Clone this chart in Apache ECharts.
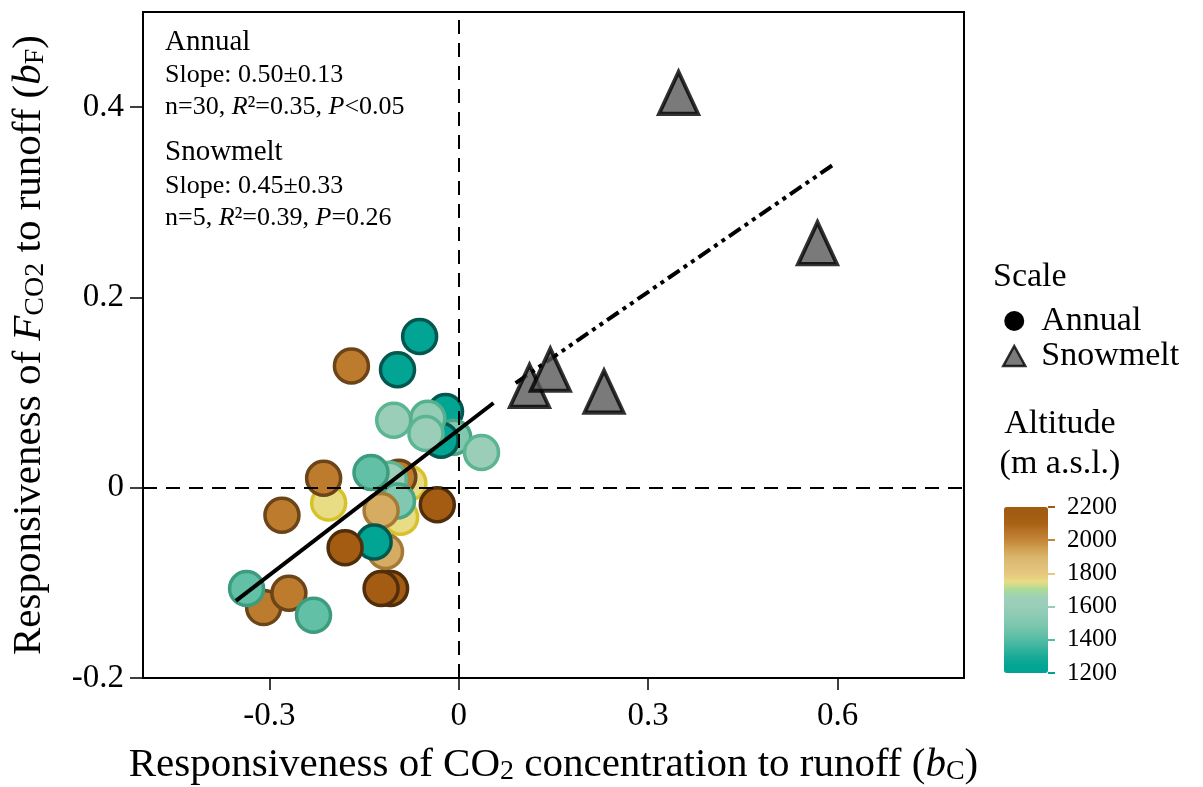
<!DOCTYPE html>
<html><head><meta charset="utf-8">
<script src="https://cdn.jsdelivr.net/npm/echarts@6/dist/echarts.min.js"></script>
<style>html,body{margin:0;padding:0;background:#fff}#c{width:1203px;height:787px}</style>
</head><body><div id="c"></div>
<script>
// ---- data ----
const annualX   = [-0.309,-0.336,-0.269,-0.230,-0.206,-0.214,-0.280,-0.079,-0.095,-0.110,-0.139,-0.092,-0.097,-0.123,-0.034,-0.116,-0.134,-0.180,-0.108,-0.123,-0.170,-0.097,-0.062,-0.103,-0.021,-0.008,-0.028,-0.049,-0.052,0.036];
const annualY   = [-0.126,-0.106,-0.111,-0.134,-0.016,0.010,-0.029,0.005,0.011,0.009,0.016,-0.031,-0.014,-0.024,-0.018,-0.067,-0.057,-0.063,-0.106,-0.106,0.128,0.124,0.159,0.071,0.080,0.053,0.050,0.073,0.057,0.037];
const annualAlt = [2030,1430,2030,1430,1750,2030,2030,1750,2030,1620,1430,1750,1500,1920,2150,1920,1230,2150,2150,2150,2030,1230,1230,1620,1230,1500,1230,1580,1620,1620];
const snowX = [0.348, 0.568, 0.112, 0.145, 0.230];
const snowY = [0.415, 0.257, 0.107, 0.124, 0.101];
const annualFitX = [-0.353, 0.055];
const annualFitY = [-0.119, 0.089];
const snowFitX = [0.090, 0.594];
const snowFitY = [0.110, 0.340];
const xTicks = [-0.3, 0, 0.3, 0.6];
const yTicks = [-0.2, 0, 0.2, 0.4];
const altMin = 1200, altMax = 2200, altStep = 200;
// colour scale, 1200 -> 2200 in steps of 50
const altColors = ['#00a292','#03a594','#1aab98','#38b39e','#54bca4','#6cc2a8','#80c8b0','#8ecbb4','#98ceb8','#9dcfba','#a9da9c','#e8dc84','#e6c77f','#e0bf78','#d9b46c','#cfa050','#c48638','#b87428','#a86214','#a35c12','#a05a12'];
const borderStops = [[1200,'#004d45'],[1300,'#0b6e62'],[1430,'#3c9c7e'],[1620,'#5cb592'],[1700,'#8cc48a'],[1750,'#d8c22c'],[1920,'#a57a36'],[2030,'#6b4418'],[2200,'#452505']];

function hex2rgb(h){return [parseInt(h.slice(1,3),16),parseInt(h.slice(3,5),16),parseInt(h.slice(5,7),16)];}
function interp(stops, v){
  if (v <= stops[0][0]) return stops[0][1];
  for (let i=1;i<stops.length;i++){
    if (v <= stops[i][0]){
      const t=(v-stops[i-1][0])/(stops[i][0]-stops[i-1][0]);
      const a=hex2rgb(stops[i-1][1]), b=hex2rgb(stops[i][1]);
      return 'rgb('+a.map((c,k)=>Math.round(c+(b[k]-c)*t)).join(',')+')';
    }
  }
  return stops[stops.length-1][1];
}

const FONT = 'Liberation Serif';
const annualData = annualX.map((x,i)=>({value:[x, annualY[i], annualAlt[i]], itemStyle:{borderColor: interp(borderStops, annualAlt[i])}}));
const snowData = snowX.map((x,i)=>[x, snowY[i]]);
const annualFit = annualFitX.map((x,i)=>[x, annualFitY[i]]);
const snowFit = snowFitX.map((x,i)=>[x, snowFitY[i]]);

const tickGradient = {type:'linear', x:0, y:507, x2:0, y2:673, global:true,
  colorStops: altColors.slice().reverse().map((c,i,arr)=>({offset:i/(arr.length-1), color:c}))};

const titleRich = {i:{fontStyle:'italic', fontSize:41, fontFamily:FONT, color:'#000'},
                   s:{fontSize:28, fontFamily:FONT, color:'#000', verticalAlign:'bottom'}};

const chart = echarts.init(document.getElementById('c'), null, {renderer:'canvas'});
const option = {
  animation:false,
  backgroundColor:'#fff',
  grid:[
    {left:143, right:239, top:12, bottom:109, show:true, borderColor:'#000', borderWidth:2, backgroundColor:'transparent', outerBoundsMode:'none', containLabel:false},
    {left:1004, top:507, width:44, height:166, show:false, outerBoundsMode:'none', containLabel:false}
  ],
  xAxis:[
    {type:'value', gridIndex:0, min:-0.5, max:0.8,
     axisLine:{show:true, onZero:false, lineStyle:{color:'#000', width:2}},
     axisTick:{show:true, length:12, lineStyle:{color:'#000', width:1.5}, customValues:xTicks},
     axisLabel:{show:true, customValues:xTicks, margin:22, fontSize:33, fontFamily:FONT, color:'#000'},
     splitLine:{show:false},
     name:'Responsiveness of CO{s|2} concentration to runoff ({i|b}{s|C})',
     nameLocation:'middle', nameGap:67,
     nameTextStyle:{fontSize:41, fontFamily:FONT, color:'#000', rich:titleRich}
    },
    {type:'value', gridIndex:1, show:false, min:0, max:1}
  ],
  yAxis:[
    {type:'value', gridIndex:0, min:-0.2, max:0.5,
     axisLine:{show:true, onZero:false, lineStyle:{color:'#000', width:2}},
     axisTick:{show:true, length:13, lineStyle:{color:'#000', width:1.5}, customValues:yTicks},
     axisLabel:{show:true, customValues:yTicks, margin:19, fontSize:33, fontFamily:FONT, color:'#000'},
     splitLine:{show:false},
     name:'Responsiveness of {i|F}{s|CO2} to runoff ({i|b}{s|F})',
     nameLocation:'middle', nameGap:93, nameRotate:90,
     nameTextStyle:{fontSize:41, fontFamily:FONT, color:'#000', rich:titleRich}
    },
    {type:'value', gridIndex:1, position:'right', min:altMin, max:altMax, interval:altStep,
     axisLine:{show:false, onZero:false},
     axisTick:{show:true, length:7, inside:false, lineStyle:{color:tickGradient, width:2}},
     axisLabel:{margin:19, fontSize:25, fontFamily:FONT, color:'#000', formatter:v=>String(v)},
     splitLine:{show:false}}
  ],
  visualMap:{type:'continuous', min:altMin, max:altMax, dimension:2, seriesIndex:1,
    inRange:{color:altColors}, left:1004, top:507, itemWidth:44, itemHeight:166,
    calculable:false, padding:0, hoverLink:false, text:null, showLabel:false},
  legend:{
    orient:'vertical', left:1002, top:304, padding:0, itemWidth:22, itemHeight:20, itemGap:1,
    textStyle:{fontSize:34, fontFamily:FONT, color:'#000', padding:[0,0,0,11]},
    data:[
      {name:'Annual', icon:'circle', itemStyle:{color:'#000', borderWidth:0}},
      {name:'Snowmelt', icon:'triangle', itemStyle:{color:'#5a5a5a', borderColor:'#000', borderWidth:2.5}}
    ]
  },
  graphic:[
    {type:'text', x:993, y:277, style:{text:'Scale', font:'34px "Liberation Serif"', fill:'#000', verticalAlign:'middle'}},
    {type:'text', x:1060, y:424, style:{text:'Altitude', font:'34px "Liberation Serif"', fill:'#000', align:'center', verticalAlign:'middle'}},
    {type:'text', x:1060, y:464, style:{text:'(m a.s.l.)', font:'34px "Liberation Serif"', fill:'#000', align:'center', verticalAlign:'middle'}},
    {type:'text', x:165, y:42, style:{text:'Annual', font:'29px "Liberation Serif"', fill:'#000', verticalAlign:'middle'}},
    {type:'text', x:165, y:75, style:{text:'Slope: 0.50±0.13', font:'26px "Liberation Serif"', fill:'#000', verticalAlign:'middle'}},
    {type:'text', x:165, y:107, style:{text:'n=30, {i|R}²=0.35, {i|P}<0.05', font:'26px "Liberation Serif"', fill:'#000', verticalAlign:'middle',
      rich:{i:{font:'italic 26px "Liberation Serif"', fill:'#000'}}}},
    {type:'text', x:165, y:152, style:{text:'Snowmelt', font:'29px "Liberation Serif"', fill:'#000', verticalAlign:'middle'}},
    {type:'text', x:165, y:186, style:{text:'Slope: 0.45±0.33', font:'26px "Liberation Serif"', fill:'#000', verticalAlign:'middle'}},
    {type:'text', x:165, y:218, style:{text:'n=5, {i|R}²=0.39, {i|P}=0.26', font:'26px "Liberation Serif"', fill:'#000', verticalAlign:'middle',
      rich:{i:{font:'italic 26px "Liberation Serif"', fill:'#000'}}}}
  ],
  series:[
    {type:'scatter', name:'ref', xAxisIndex:0, yAxisIndex:0, data:[], z:1, silent:true,
     markLine:{silent:true, symbol:['none','none'], label:{show:false},
       lineStyle:{color:'#000', type:[14,9], width:2},
       data:[{xAxis:0},{yAxis:0}]}},
    {type:'scatter', name:'Annual', xAxisIndex:0, yAxisIndex:0, data:annualData, symbol:'circle', symbolSize:34,
     itemStyle:{borderWidth:3.5, opacity:1}, z:2},
    {type:'line', name:'annualFit', data:annualFit, showSymbol:false, symbol:'none', lineStyle:{color:'#000', width:4}, z:3, silent:true},
    {type:'line', name:'snowFit', data:snowFit, showSymbol:false, symbol:'none', lineStyle:{color:'#000', width:4, type:[14,5,4,5,4,5]}, z:3, silent:true},
    {type:'scatter', name:'Snowmelt', data:snowData, symbol:'triangle', symbolSize:[39,42],
     itemStyle:{color:'#595959', borderColor:'#000', borderWidth:4}, z:4}
  ]
};
chart.setOption(option);
</script></body></html>
